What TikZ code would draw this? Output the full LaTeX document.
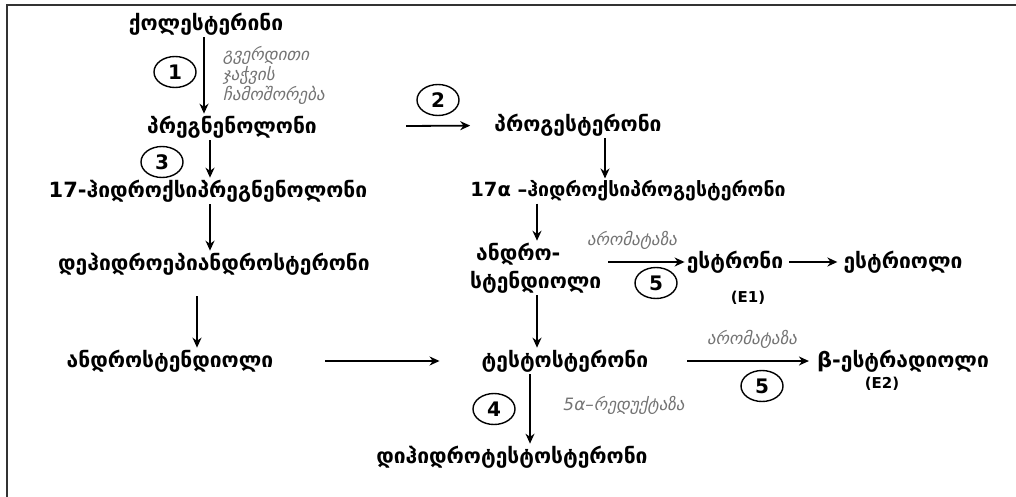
\documentclass[tikz,border=0pt]{standalone}
\usepackage{fontspec}
\setmainfont{DejaVu Sans}
\usetikzlibrary{shapes.geometric,arrows.meta}

\tikzset{
  subst/.style={font=\fontsize{21}{24}\selectfont\bfseries, inner sep=2pt},
  enzyme/.style={font=\fontsize{17}{20}\selectfont\itshape, text=black!55, inner sep=1pt, align=left},
  stepno/.style={ellipse, draw, line width=1.4pt, minimum width=42pt, minimum height=31pt,
    inner sep=0pt, font=\fontsize{20}{22}\selectfont\bfseries},
  arr/.style={-{Stealth[length=10pt,width=9pt]}, line width=1.8pt},
}

\begin{document}
\begin{tikzpicture}[x=1pt,y=-1pt]
  \useasboundingbox (0,0) rectangle (1016,497);
  % frame
  \draw[line width=1.6pt, black!80] (7,497) -- (7,5) -- (1016,5);

  % left column
  \node[subst] (chol) at (206,24) {ქოლესტერინი};
  \node[subst] (preg) at (232,127) {პრეგნენოლონი};
  \node[subst] (ohpreg) at (208,191) {17-ჰიდროქსიპრეგნენოლონი};
  \node[subst] (dhea) at (214,264) {დეჰიდროეპიანდროსტერონი};
  \node[subst] (andros) at (170,361) {ანდროსტენდიოლი};

  % right column
  \node[subst] (prog) at (578,125) {პროგესტერონი};
  \node[subst, font=\fontsize{19.5}{22}\selectfont\bfseries] (ohprog) at (628,191) {17α –ჰიდროქსიპროგესტერონი};
  \node[subst, anchor=west] (androA) at (474,254) {ანდრო-};
  \node[subst, anchor=west] (androB) at (468,282) {სტენდიოლი};
  \node[subst] (testo) at (565,361) {ტესტოსტერონი};
  \node[subst] (dht) at (512,457) {დიჰიდროტესტოსტერონი};

  % estrogens
  \node[subst] (estrone) at (735,262) {ესტრონი};
  \node[font=\fontsize{15}{17}\selectfont\bfseries] (e1) at (748,298) {(E1)};
  \node[subst] (estriol) at (903,262) {ესტრიოლი};
  \node[subst] (estradiol) at (903,361) {β-ესტრადიოლი};
  \node[font=\fontsize{15}{17}\selectfont\bfseries] (e2) at (882,384) {(E2)};

  % enzymes
  \node[enzyme, anchor=west] (scc) at (222,75) {გვერდითი\\ჯაჭვის\\ჩამოშორება};
  \node[enzyme] (arom1) at (632,240) {არომატაზა};
  \node[enzyme] (arom2) at (752,339) {არომატაზა};
  \node[enzyme] (red) at (624,405) {5α–რედუქტაზა};

  % step numbers
  \node[stepno] (s1) at (175,72) {1};
  \node[stepno] (s2) at (438,100) {2};
  \node[stepno] (s3) at (162,162) {3};
  \node[stepno] (s4) at (494,409) {4};
  \node[stepno] (s5a) at (656,283) {5};
  \node[stepno] (s5b) at (762,386) {5};

  % arrows
  \draw[arr] ([xshift=-2pt]chol.south) -- ([xshift=-2pt]chol.south |- preg.north);
  \draw[arr, shorten <=87pt, shorten >=22pt] (preg) -- (prog);
  \draw[arr] ([xshift=-22pt]preg.south) -- ([xshift=-22pt]preg.south |- ohpreg.north);
  \draw[arr] ([xshift=2pt]ohpreg.south) -- ([xshift=2pt]ohpreg.south |- dhea.north);
  \draw[arr, shorten <=19pt] ([xshift=-17pt]dhea.south) -- ([xshift=-17pt]dhea.south |- andros.north);
  \draw[arr, shorten <=50pt, shorten >=40pt] (andros) -- (testo);
  \draw[arr] ([xshift=27pt]prog.south) -- ([xshift=27pt]prog.south |- ohprog.north);
  \draw[arr] ([xshift=-91pt]ohprog.south) -- ([xshift=-91pt]ohprog.south |- androA.north);
  \coordinate (a5) at (608,262);
  \draw[arr] (a5) -- (estrone);
  \draw[arr, shorten <=4pt, shorten >=4pt] (estrone) -- (estriol);
  \draw[arr] ([xshift=-28pt]testo.north |- androB.south) -- ([xshift=-28pt]testo.north);
  \draw[arr, shorten <=37pt, shorten >=6pt] (testo) -- (estradiol);
  \draw[arr] ([xshift=-35pt]testo.south) -- ([xshift=-35pt]testo.south |- dht.north);
\end{tikzpicture}
\end{document}
